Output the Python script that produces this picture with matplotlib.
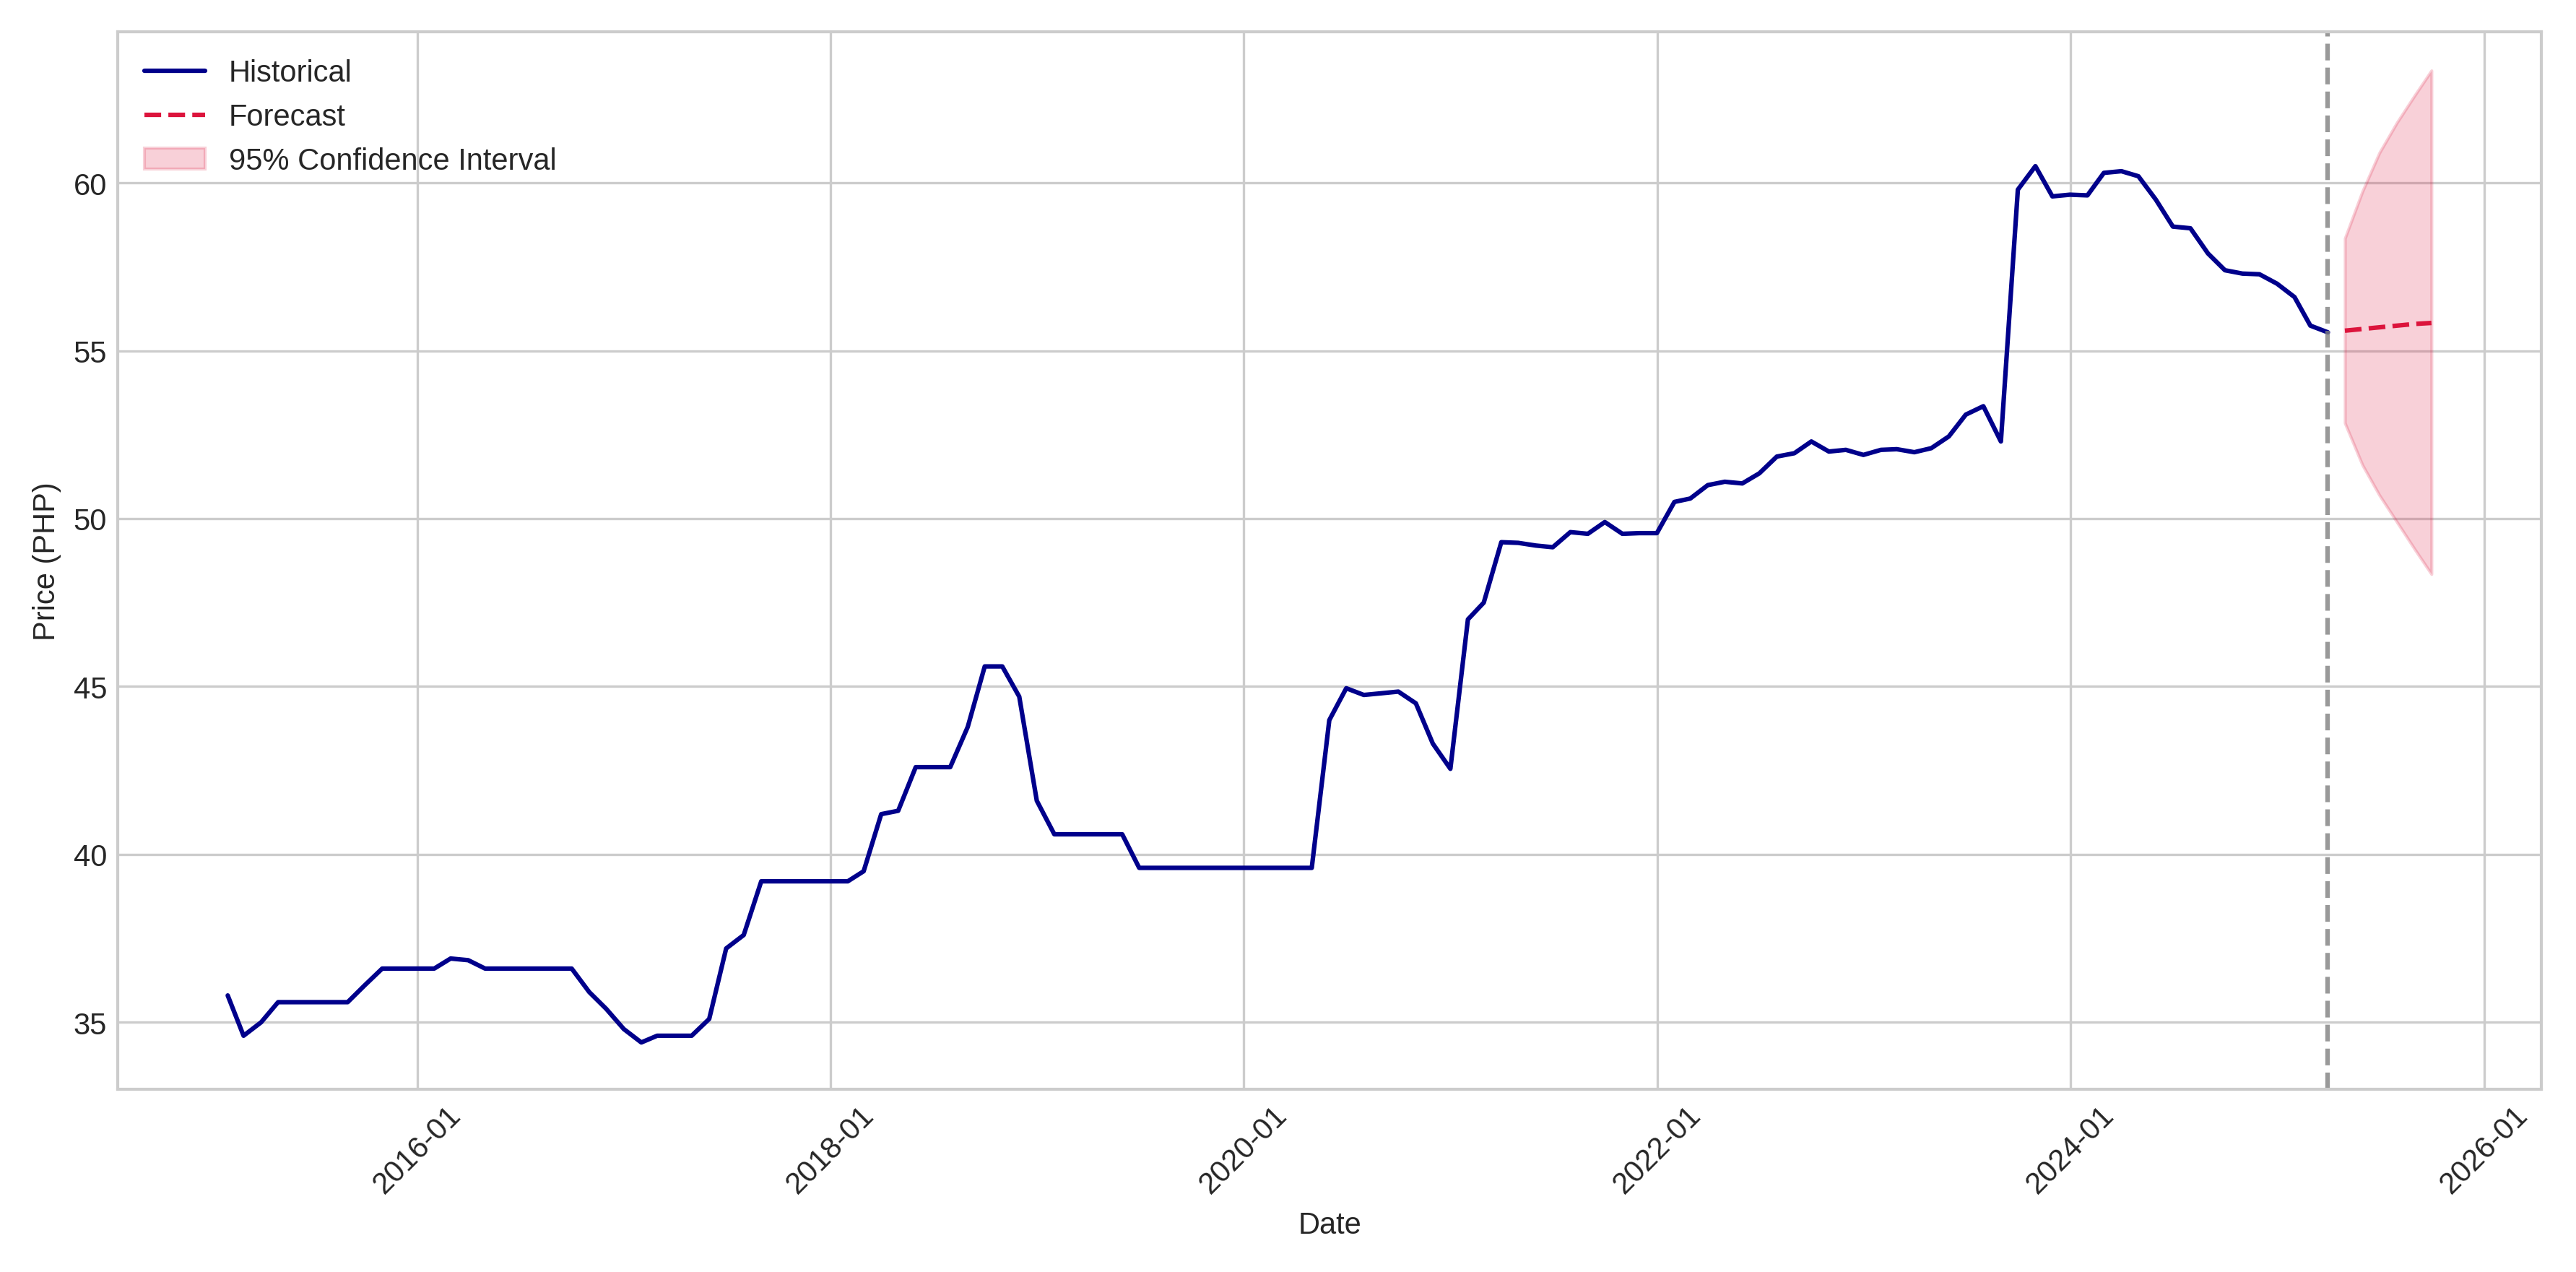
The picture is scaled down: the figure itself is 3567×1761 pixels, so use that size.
import pandas as pd
import matplotlib.pyplot as plt
import matplotlib.dates as mdates

# monthly historical prices, 2015-01 .. 2025-03
hist_values = [
    35.8, 34.6, 35.0, 35.6, 35.6, 35.6, 35.6, 35.6, 36.1, 36.6, 36.6, 36.6,
    36.6, 36.9, 36.85, 36.6, 36.6, 36.6, 36.6, 36.6, 36.6, 35.9, 35.4, 34.8,
    34.4, 34.6, 34.6, 34.6, 35.1, 37.2, 37.6, 39.2, 39.2, 39.2, 39.2, 39.2,
    39.2, 39.5, 41.2, 41.3, 42.6, 42.6, 42.6, 43.8, 45.6, 45.6, 44.7, 41.6,
    40.6, 40.6, 40.6, 40.6, 40.6, 39.6, 39.6, 39.6, 39.6, 39.6, 39.6, 39.6,
    39.6, 39.6, 39.6, 39.6, 44.0, 44.95, 44.75, 44.8, 44.85, 44.5, 43.3, 42.55,
    47.0, 47.5, 49.3, 49.28, 49.2, 49.15, 49.6, 49.55, 49.9, 49.55, 49.57, 49.57,
    50.5, 50.6, 51.0, 51.1, 51.05, 51.35, 51.85, 51.95, 52.3, 52.0, 52.05, 51.9,
    52.05, 52.07, 51.98, 52.1, 52.45, 53.1, 53.35, 52.3, 59.8, 60.5, 59.6, 59.65,
    59.63, 60.3, 60.35, 60.2, 59.5, 58.7, 58.65, 57.9, 57.4, 57.3, 57.28, 57.0,
    56.6, 55.75, 55.55,
]
hist_dates = pd.date_range("2015-01-31", periods=len(hist_values), freq="ME")

forecast_values = [55.6, 55.65, 55.7, 55.75, 55.8, 55.83]
lower_ci = [52.85, 51.6, 50.7, 49.9, 49.1, 48.35]
upper_ci = [58.35, 59.75, 60.9, 61.8, 62.6, 63.35]
forecast_dates = pd.date_range("2025-04-30", periods=len(forecast_values), freq="ME")

plt.style.use("seaborn-v0_8-whitegrid")
fig, ax = plt.subplots(figsize=(11.89, 5.873), dpi=300)

ax.plot(hist_dates, hist_values, color="darkblue", linewidth=1.5, label="Historical")
ax.plot(forecast_dates, forecast_values, color="crimson", linestyle="--",
        linewidth=1.5, label="Forecast")
ax.fill_between(forecast_dates, lower_ci, upper_ci, color="crimson", alpha=0.2,
                label="95% Confidence Interval")
ax.axvline(hist_dates[-1], color="gray", linestyle="--", alpha=0.8, linewidth=1.5)

ax.set_xlabel("Date")
ax.set_ylabel("Price (PHP)")
ax.set_ylim(33, 64.5)
ax.xaxis.set_major_locator(mdates.YearLocator(2))
ax.xaxis.set_major_formatter(mdates.DateFormatter("%Y-%m"))
plt.setp(ax.get_xticklabels(), rotation=45)
for s in ax.spines.values():
    s.set_visible(True)
    s.set_color("#cccccc")
ax.legend(loc="upper left")

plt.tight_layout()
plt.savefig("out.png", dpi=300)
plt.close()
